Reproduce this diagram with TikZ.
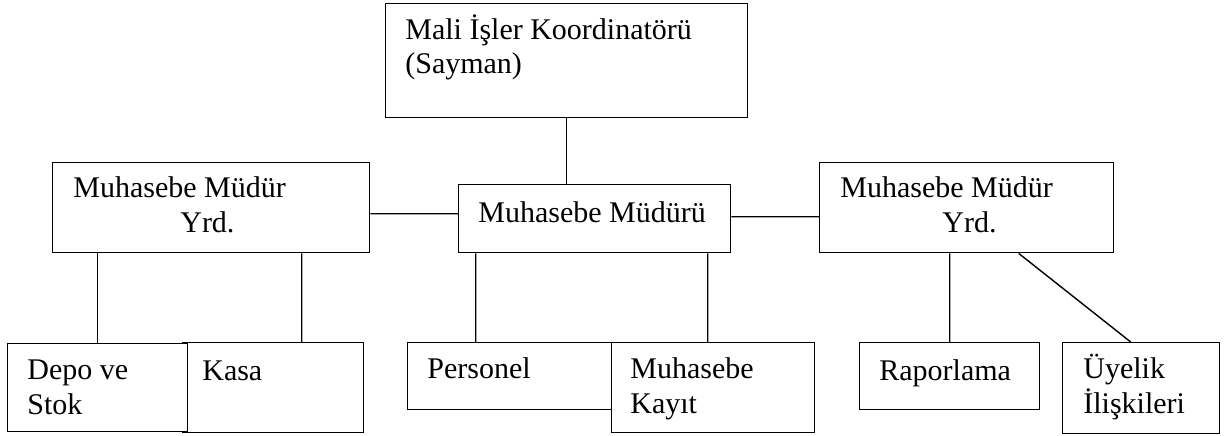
\documentclass[tikz,border=0pt]{standalone}
\usepackage{fontspec}
\setmainfont{Liberation Serif}
\usepackage{tikz}
\usetikzlibrary{positioning}

\begin{document}
\begin{tikzpicture}[
  box/.style={draw, line width=0.8pt, fill=white, anchor=north west, inner sep=0pt},
  edge/.style={line width=0.8pt},
  txt/.style={anchor=base west, align=left, inner sep=0pt,
    font=\fontsize{17.07pt}{19.6pt}\selectfont}
]
  \useasboundingbox (0,0) rectangle (24.48,-8.72);

  % Boxes
  \node[box, minimum width=7.24cm, minimum height=2.28cm] (mali)  at (7.70,-0.06) {};
  \node[box, minimum width=5.44cm, minimum height=1.36cm] (mud)   at (9.16,-3.68) {};
  \node[box, minimum width=6.34cm, minimum height=1.80cm] (yrdL)  at (1.04,-3.24) {};
  \node[box, minimum width=5.88cm, minimum height=1.80cm] (yrdR)  at (16.38,-3.24) {};
  \node[box, minimum width=3.62cm, minimum height=1.80cm] (kasa)  at (3.64,-6.84) {};
  \node[box, minimum width=3.60cm, minimum height=1.76cm] (depo)  at (0.14,-6.86) {};
  \node[box, minimum width=4.08cm, minimum height=1.34cm] (pers)  at (8.14,-6.84) {};
  \node[box, minimum width=4.06cm, minimum height=1.80cm] (kayit) at (12.22,-6.84) {};
  \node[box, minimum width=3.60cm, minimum height=1.34cm] (rapor) at (17.18,-6.84) {};
  \node[box, minimum width=3.14cm, minimum height=1.82cm] (uye)   at (21.24,-6.84) {};

  % Texts (base is the last line)
  \node[txt] (maliT)  at (8.10,-1.48) {Mali İşler Koordinatörü\\(Sayman)};
  \node[txt] (mudT)   at (9.56,-4.44) {Muhasebe Müdürü};
  \node[txt] (yrdLT)  at (1.46,-4.64) {Muhasebe Müdür\\\hspace*{2.14cm}Yrd.};
  \node[txt] (yrdRT)  at (16.80,-4.64) {Muhasebe Müdür\\\hspace*{2.04cm}Yrd.};
  \node[txt] (depoT)  at (0.54,-8.28) {Depo ve\\Stok};
  \node[txt] (kasaT)  at (4.04,-7.60) {Kasa};
  \node[txt] (persT)  at (8.54,-7.56) {Personel};
  \node[txt] (kayitT) at (12.60,-8.26) {Muhasebe\\Kayıt};
  \node[txt] (raporT) at (17.58,-7.60) {Raporlama};
  \node[txt] (uyeT)   at (21.66,-8.26) {Üyelik\\İlişkileri};

  % Edges
  \draw[edge] (mali.south) -- (mali.south |- mud.north);
  \draw[edge] ([yshift=-0.12cm]yrdL.east) -- ([yshift=0.10cm]mud.west);
  \draw[edge] ([yshift=0.04cm]mud.east) -- ([yshift=-0.18cm]yrdR.west);
  \draw[edge] (yrdL.south -| depo.north) -- (depo.north);
  \draw[edge] ([xshift=1.81cm]yrdL.south) -- ([xshift=0.57cm]kasa.north);
  \draw[edge] ([xshift=-2.38cm]mud.south) -- ([xshift=-0.68cm]pers.north);
  \draw[edge] ([xshift=2.26cm]mud.south) -- ([xshift=-0.11cm]kayit.north);
  \draw[edge] ([xshift=-0.34cm]yrdR.south) -- (rapor.north);
  \draw[edge] ([xshift=1.04cm]yrdR.south) -- ([xshift=-0.21cm]uye.north);

\end{tikzpicture}
\end{document}
